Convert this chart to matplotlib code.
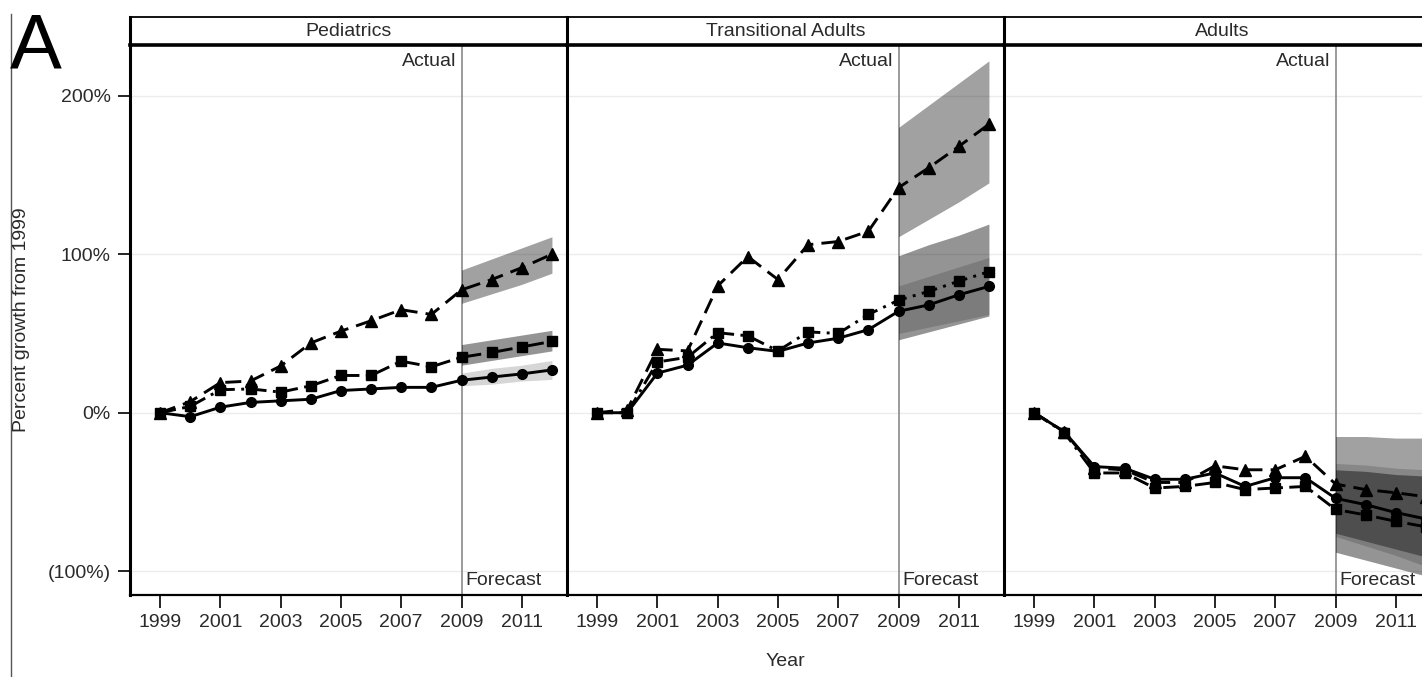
import matplotlib
matplotlib.use("Agg")
import matplotlib.pyplot as plt
from matplotlib.lines import Line2D

plt.rcParams["font.family"] = ["Liberation Sans", "DejaVu Sans"]

years = list(range(1999, 2013))
fc_years = [2009, 2010, 2011, 2012]
panel_titles = ["Pediatrics", "Transitional Adults", "Adults"]

# percent growth from 1999 (circle = solid, square = dash-dot, triangle = dashed)
ped_circle = [0, -2.5, 3.5, 6.5, 7.5, 8.5, 14, 15, 16, 16, 20.5, 22.5, 24.5, 27]
ped_square = [0, 4, 14.5, 15, 13, 17, 23.5, 23.5, 32.5, 29, 35, 38, 41.5, 45]
ped_triangle = [0, 7, 19, 20, 29.5, 44, 51.5, 58, 65, 62, 77.5, 84, 91.5, 100]

trans_circle = [0, 0, 25, 30, 44, 41, 38.7, 44, 47, 52.4, 64, 68, 74.4, 79.7]
trans_square = [0, 0, 32, 35, 50.5, 48.5, 39, 51, 50, 62, 71, 76.5, 83, 89]
trans_triangle = [0, 2, 40, 39, 80, 98.5, 84, 106, 108, 114.5, 142, 154.5, 168, 182]

adult_circle = [0, -12, -34, -35, -42, -42, -38, -46.5, -41, -41, -54, -58, -63, -67]
adult_square = [0, -12.5, -38, -38, -47.5, -46.5, -44, -48.5, -47.5, -46.5, -61, -64.5, -68.5, -72]
adult_triangle = [0, -12, -35, -36, -44, -44, -33.5, -36, -36, -27.5, -45, -48.5, -50.5, -53]

# forecast intervals 2009-2012 (lower, upper)
ped_circle_lo = [17, 18, 20, 21]
ped_circle_hi = [25, 28, 30, 33]
ped_square_lo = [30, 33, 36, 39]
ped_square_hi = [43, 46, 49, 52]
ped_triangle_lo = [69, 75, 81, 88]
ped_triangle_hi = [90, 97, 104, 111]

trans_circle_lo = [50, 54, 58, 62]
trans_circle_hi = [80, 86, 92, 98]
trans_square_lo = [46, 51, 56, 61]
trans_square_hi = [99, 106, 112, 119]
trans_triangle_lo = [111, 122, 133, 145]
trans_triangle_hi = [180, 194, 208, 222]

adult_circle_lo = [-78, -84, -90, -97]
adult_circle_hi = [-32, -33, -35, -36]
adult_square_lo = [-88, -93, -98, -103]
adult_square_hi = [-36, -37, -39, -40]
adult_triangle_lo = [-76, -81, -86, -91]
adult_triangle_hi = [-15, -15, -16, -16]

y_ticks = [200, 100, 0, -100]
y_ticklabels = ["200%", "100%", "0%", "(100%)"]
x_ticks = [1999, 2001, 2003, 2005, 2007, 2009, 2011]

panels = [
    (ped_circle, ped_square, ped_triangle,
     (ped_circle_lo, ped_circle_hi), (ped_square_lo, ped_square_hi), (ped_triangle_lo, ped_triangle_hi)),
    (trans_circle, trans_square, trans_triangle,
     (trans_circle_lo, trans_circle_hi), (trans_square_lo, trans_square_hi), (trans_triangle_lo, trans_triangle_hi)),
    (adult_circle, adult_square, adult_triangle,
     (adult_circle_lo, adult_circle_hi), (adult_square_lo, adult_square_hi), (adult_triangle_lo, adult_triangle_hi)),
]

W, H = 1422, 677
FS = 14
TXT = "#2a2a2a"


def box(left, top, right, bottom):
    return [left / W, 1 - bottom / H, (right - left) / W, (bottom - top) / H]


fig = plt.figure(figsize=(W / 100, H / 100), dpi=100)

lefts = [130, 567, 1004]
pw = 437
for i, (circ, sq, tri, circ_b, sq_b, tri_b) in enumerate(panels):
    x0 = lefts[i]
    ax = fig.add_axes(box(x0, 45, x0 + pw, 595))
    ax.set_xlim(1998, 2012.5)
    ax.set_ylim(-115, 232)

    for y in y_ticks:
        ax.axhline(y, color="#ececec", lw=1, zorder=0)
    ax.axvline(2009, color="#808080", lw=1.1, zorder=1)

    ax.fill_between(fc_years, tri_b[0], tri_b[1], color="k", alpha=0.37, lw=0, zorder=1)
    ax.fill_between(fc_years, sq_b[0], sq_b[1], color="k", alpha=0.42, lw=0, zorder=1)
    ax.fill_between(fc_years, circ_b[0], circ_b[1], color="k", alpha=0.16, lw=0, zorder=1)

    ax.plot(years, tri, color="k", lw=2.1, dashes=[5.5, 2.8], marker="^", ms=9, zorder=3)
    ax.plot(years, sq, color="k", lw=2.1, dashes=[5.5, 2.2, 1, 2.2], marker="s", ms=7.5, zorder=3)
    ax.plot(years, circ, color="k", lw=2.1, marker="o", ms=7, zorder=4)

    ax.annotate("Actual", xy=(2009, 1), xycoords=("data", "axes fraction"),
                xytext=(-4, -6), textcoords="offset points",
                ha="right", va="top", fontsize=FS, color=TXT)
    ax.annotate("Forecast", xy=(2009, 0), xycoords=("data", "axes fraction"),
                xytext=(3, 4), textcoords="offset points",
                ha="left", va="bottom", fontsize=FS, color=TXT)

    ax.set_xticks(x_ticks)
    ax.tick_params(axis="x", direction="out", length=9, width=1.2,
                   labelsize=FS, labelcolor=TXT, pad=5)
    if i == 0:
        ax.set_yticks(y_ticks)
        ax.set_yticklabels(y_ticklabels)
        ax.tick_params(axis="y", direction="out", length=9, width=1.2,
                       labelsize=FS, labelcolor=TXT, pad=5)
    else:
        ax.set_yticks([])

    ax.spines["top"].set_visible(False)
    ax.spines["right"].set_visible(False)
    ax.spines["left"].set_linewidth(2.2)
    ax.spines["bottom"].set_linewidth(1.6)

    hx = fig.add_axes(box(x0, 17, x0 + pw, 45))
    hx.set_xticks([])
    hx.set_yticks([])
    hx.spines["right"].set_visible(False)
    hx.spines["top"].set_linewidth(1.3)
    hx.spines["bottom"].set_linewidth(2.6)
    hx.spines["left"].set_linewidth(2.2)
    hx.text(0.5, 0.5, panel_titles[i], ha="center", va="center",
            fontsize=FS, color=TXT, transform=hx.transAxes)

fig.text(22 / W, 1 - 320 / H, "Percent growth from 1999", rotation=90,
         ha="center", va="center", fontsize=FS, color=TXT)
fig.text(785 / W, 1 - 662 / H, "Year", ha="center", va="center",
         fontsize=FS, color=TXT)
fig.text(10 / W, 1 - 12 / H, "A", ha="left", va="top", fontsize=56, color="k")
fig.add_artist(Line2D([11 / W, 11 / W], [0, 1 - 14 / H], color="#555555", lw=1))

fig.savefig("out.png", dpi=100)
